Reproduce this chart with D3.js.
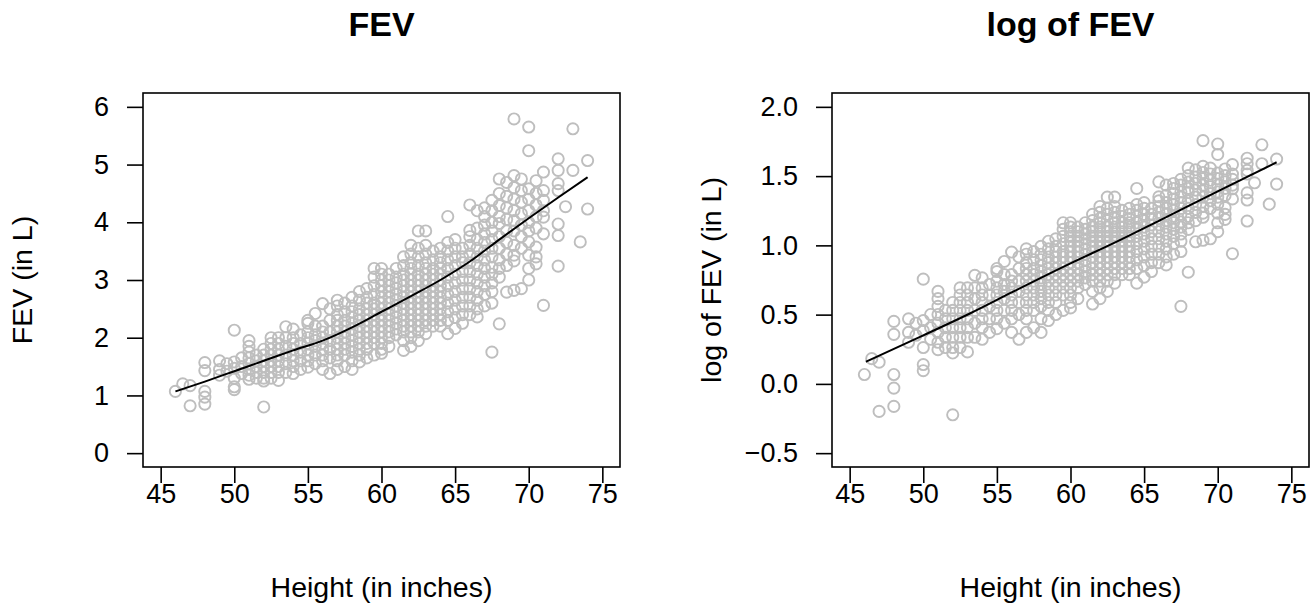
<!DOCTYPE html>
<html>
<head>
<meta charset="utf-8">
<script src="https://cdn.jsdelivr.net/npm/d3@7"></script>
<style>
  body { margin: 0; background: #fff; }
  text { font-family: "Liberation Sans", Arial, sans-serif; fill: #000; }
</style>
</head>
<body>
<div id="chart"></div>
<script>

// heights (in inches) of each column of children
var heights = [46, 46.5, 47, 48, 49, 49.5, 50, 50.5, 51, 51.5, 52, 52.5, 53, 53.5, 54, 54.5,
  55, 55.5, 56, 56.5, 57, 57.5, 58, 58.5, 59, 59.5, 60, 60.5, 61, 61.5, 62, 62.5, 63, 63.5,
  64, 64.5, 65, 65.5, 66, 66.5, 67, 67.5, 68, 68.5, 69, 69.5, 70, 70.5, 71, 72, 72.5, 73, 73.5, 74];

// FEV values (L) for each height column above
var fevByHeight = [
  [1.07],
  [1.2],
  [1.17, 0.82],
  [1.57, 1.43, 1.07, 0.97, 0.85],
  [1.6, 1.45, 1.35],
  [1.42, 1.55],
  [2.13, 1.58, 1.47, 1.3, 1.15, 1.1],
  [1.65, 1.5, 1.38],
  [1.95, 1.85, 1.75, 1.65, 1.55, 1.45, 1.35, 1.28],
  [1.7, 1.6, 1.5, 1.4, 1.3],
  [1.8, 1.7, 1.6, 1.5, 1.4, 1.3, 1.25, 0.8],
  [2.0, 1.9, 1.8, 1.7, 1.6, 1.5, 1.4, 1.3],
  [2.0, 1.9, 1.8, 1.7, 1.6, 1.5, 1.4, 1.26],
  [2.19, 2.0, 1.85, 1.7, 1.55, 1.4],
  [2.15, 2.0, 1.9, 1.8, 1.7, 1.6, 1.5, 1.38],
  [2.05, 1.9, 1.75, 1.6, 1.45],
  [2.3, 2.25, 2.1, 2.0, 1.9, 1.8, 1.7, 1.6, 1.49],
  [2.42, 2.2, 2.05, 1.95, 1.85, 1.7, 1.55],
  [2.59, 2.2, 2.1, 2.0, 1.9, 1.8, 1.7, 1.6, 1.45],
  [2.5, 2.3, 2.1, 1.95, 1.8, 1.65, 1.38],
  [2.65, 2.55, 2.4, 2.3, 2.2, 2.1, 2.0, 1.9, 1.8, 1.7, 1.6, 1.45],
  [2.6, 2.45, 2.3, 2.2, 2.1, 2.0, 1.9, 1.8, 1.7, 1.5],
  [2.7, 2.55, 2.45, 2.35, 2.25, 2.15, 2.05, 1.95, 1.85, 1.75, 1.6, 1.45],
  [2.8, 2.65, 2.5, 2.4, 2.3, 2.2, 2.1, 2.0, 1.9, 1.8, 1.7, 1.58],
  [2.85, 2.7, 2.6, 2.5, 2.4, 2.3, 2.2, 2.1, 2.0, 1.9, 1.8, 1.65],
  [3.2, 3.05, 2.9, 2.75, 2.6, 2.5, 2.4, 2.3, 2.2, 2.1, 2.0, 1.9, 1.7],
  [3.2, 3.1, 3.0, 2.9, 2.8, 2.7, 2.6, 2.5, 2.4, 2.3, 2.2, 2.1, 2.0, 1.9, 1.8, 1.73],
  [3.1, 3.0, 2.9, 2.8, 2.7, 2.6, 2.5, 2.4, 2.3, 2.2, 2.1, 2.0, 1.85],
  [3.2, 3.05, 2.95, 2.85, 2.75, 2.65, 2.55, 2.45, 2.35, 2.25, 2.15, 2.05],
  [3.4, 3.25, 3.1, 3.0, 2.9, 2.8, 2.7, 2.6, 2.5, 2.4, 2.3, 2.2, 2.1, 1.95, 1.78],
  [3.6, 3.45, 3.3, 3.2, 3.1, 3.0, 2.9, 2.8, 2.7, 2.6, 2.5, 2.4, 2.3, 2.2, 2.1, 2.0, 1.85],
  [3.85, 3.55, 3.4, 3.25, 3.1, 3.0, 2.9, 2.8, 2.7, 2.6, 2.5, 2.4, 2.3, 2.2, 2.1, 1.95],
  [3.85, 3.6, 3.45, 3.3, 3.2, 3.1, 3.0, 2.9, 2.8, 2.7, 2.6, 2.5, 2.4, 2.3, 2.2, 2.07],
  [3.5, 3.35, 3.2, 3.1, 3.0, 2.9, 2.8, 2.7, 2.6, 2.5, 2.4, 2.3, 2.2],
  [3.55, 3.4, 3.3, 3.2, 3.1, 3.0, 2.9, 2.8, 2.7, 2.6, 2.5, 2.4, 2.3, 2.2],
  [4.1, 3.65, 3.5, 3.35, 3.2, 3.05, 2.9, 2.75, 2.6, 2.45, 2.3, 2.07],
  [3.7, 3.55, 3.4, 3.25, 3.1, 2.95, 2.8, 2.65, 2.5, 2.35, 2.16],
  [3.55, 3.4, 3.3, 3.15, 3.0, 2.85, 2.7, 2.55, 2.4, 2.25],
  [4.3, 3.86, 3.75, 3.6, 3.45, 3.3, 3.15, 3.0, 2.85, 2.7, 2.55, 2.4],
  [4.2, 3.9, 3.7, 3.55, 3.4, 3.25, 3.1, 2.95, 2.8, 2.65, 2.5, 2.36],
  [4.25, 4.1, 3.95, 3.8, 3.65, 3.5, 3.35, 3.2, 3.05, 2.9, 2.75, 2.55],
  [4.38, 4.2, 4.0, 3.85, 3.7, 3.55, 3.4, 3.22, 3.1, 2.95, 2.8, 2.6, 1.75],
  [4.75, 4.5, 4.29, 4.1, 3.98, 3.75, 3.55, 3.35, 3.2, 3.05, 2.24],
  [4.69, 4.45, 4.25, 4.05, 3.85, 3.65, 3.45, 3.25, 2.79],
  [5.79, 4.81, 4.6, 4.4, 4.2, 4.03, 3.85, 3.6, 3.43, 3.33, 2.82],
  [4.75, 4.55, 4.35, 4.15, 3.95, 3.75, 3.55, 2.85],
  [5.65, 5.24, 4.58, 4.4, 4.2, 4.0, 3.85, 3.66, 3.43, 3.2, 3.0],
  [4.72, 4.5, 4.3, 4.1, 3.9, 3.57, 3.4, 3.28],
  [4.87, 4.55, 4.38, 4.2, 4.09, 3.8, 2.56],
  [5.1, 4.9, 4.67, 4.55, 3.97, 3.77, 3.24],
  [4.27],
  [5.62, 4.9],
  [3.66],
  [5.07, 4.23]
];

// smoother lines
var smoothHeights = [46, 48, 50, 52, 54, 56, 58, 60, 62, 64, 66, 68, 70, 72, 74];
var smoothFev = [1.07, 1.24, 1.42, 1.6, 1.78, 1.95, 2.18, 2.45, 2.72, 3.0, 3.32, 3.7, 4.07, 4.43, 4.78];
var smoothLogHeights = [46.1, 50, 53.2, 56, 60, 63, 66.1, 70, 74];
var smoothLogFev = [0.16, 0.35, 0.51, 0.66, 0.87, 1.02, 1.183, 1.39, 1.6];

var xTicks = [45, 50, 55, 60, 65, 70, 75];
var fevTicks = [0, 1, 2, 3, 4, 5, 6];
var logTicks = [-0.5, 0.0, 0.5, 1.0, 1.5, 2.0];

// flatten the columns into points
var points = [];
heights.forEach(function(h, i) {
  fevByHeight[i].forEach(function(v) {
    points.push({ height: h, fev: v, logFev: Math.log(v) });
  });
});

var svgWidth = 1313;
var svgHeight = 605;

var svg = d3.select("#chart")
  .append("svg")
  .attr("width", svgWidth)
  .attr("height", svgHeight);

function drawPanel(opts) {
  var x = d3.scaleLinear().domain([43.8, 76.2]).range([opts.left, opts.left + 477]);
  var y = d3.scaleLinear().domain(opts.yDomain).range([467, 93]);

  var g = svg.append("g");

  // points
  g.selectAll("circle")
    .data(points)
    .enter()
    .append("circle")
    .attr("cx", d => x(d.height))
    .attr("cy", d => y(d[opts.key]))
    .attr("r", 5.6)
    .attr("fill", "none")
    .attr("stroke", "#bebebe")
    .attr("stroke-width", 1.9);

  // smoother
  var lineData = opts.lineX.map((h, i) => [h, opts.lineY[i]]);
  g.append("path")
    .datum(lineData)
    .attr("fill", "none")
    .attr("stroke", "#000")
    .attr("stroke-width", 2)
    .attr("d", d3.line().x(d => x(d[0])).y(d => y(d[1])).curve(d3.curveMonotoneX));

  // box
  g.append("rect")
    .attr("x", x.range()[0])
    .attr("y", 93)
    .attr("width", 477)
    .attr("height", 374)
    .attr("fill", "none")
    .attr("stroke", "#000")
    .attr("stroke-width", 1.6);

  // axes
  var xAxis = g.append("g")
    .attr("transform", "translate(0,467)")
    .call(d3.axisBottom(x).tickValues(xTicks).tickSize(16).tickPadding(1).tickFormat(d3.format("d")));
  var yAxis = g.append("g")
    .attr("transform", `translate(${x.range()[0]},0)`)
    .call(d3.axisLeft(y).tickValues(opts.yTicks).tickSize(16).tickPadding(18).tickFormat(opts.yFormat));

  [xAxis, yAxis].forEach(function(a) {
    a.select(".domain").remove();
    a.selectAll(".tick line").attr("stroke", "#000").attr("stroke-width", 1.6);
    a.selectAll(".tick text").attr("font-size", 27).attr("font-family", null);
  });

  var cx = x.range()[0] + 477 / 2;

  // title
  g.append("text")
    .attr("x", cx)
    .attr("y", 36)
    .attr("text-anchor", "middle")
    .attr("font-size", 34)
    .attr("font-weight", "bold")
    .text(opts.title);

  // axis labels
  g.append("text")
    .attr("x", cx)
    .attr("y", 597)
    .attr("text-anchor", "middle")
    .attr("font-size", 28.5)
    .text("Height (in inches)");

  g.append("text")
    .attr("transform", `translate(${opts.yLabelX},280) rotate(-90)`)
    .attr("text-anchor", "middle")
    .attr("font-size", 28.5)
    .text(opts.yLabel);
}

drawPanel({
  left: 143, key: "fev", yDomain: [-0.24, 6.24], yTicks: fevTicks, yFormat: d3.format("d"),
  lineX: smoothHeights, lineY: smoothFev, title: "FEV", yLabel: "FEV (in L)", yLabelX: 32
});

drawPanel({
  left: 832, key: "logFev", yDomain: [-0.6, 2.1], yTicks: logTicks, yFormat: d3.format(".1f"),
  lineX: smoothLogHeights, lineY: smoothLogFev, title: "log of FEV", yLabel: "log of FEV (in L)", yLabelX: 721
});

</script>
</body>
</html>
